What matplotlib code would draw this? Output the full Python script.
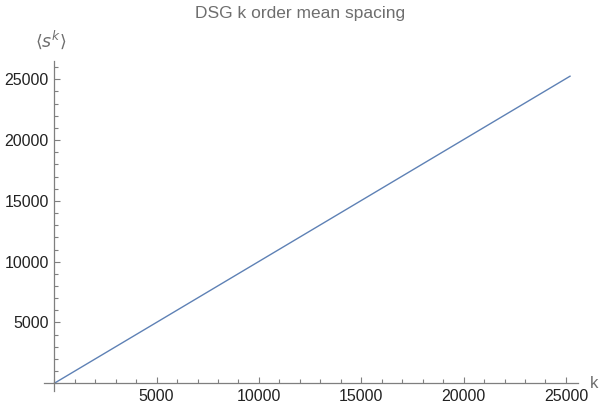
import numpy as np
import matplotlib
matplotlib.use("Agg")
import matplotlib.pyplot as plt
from matplotlib.ticker import FixedLocator, MultipleLocator

# data: mean k-th order spacing grows linearly with k
k_values = [0, 25200]
mean_spacing = [0, 25250]

x_major = [5000, 10000, 15000, 20000, 25000]
y_major = [5000, 10000, 15000, 20000, 25000]

axis_grey = "#7f7f7f"
label_grey = "#6e6e6e"
line_blue = "#5e81b5"

plt.rcParams["font.family"] = ["Liberation Sans", "DejaVu Sans"]

fig = plt.figure(figsize=(6.0, 4.08), dpi=100)
ax = fig.add_axes([0.0733, 0.0417, 0.8897, 0.8088])

ax.plot(k_values, mean_spacing, color=line_blue, linewidth=1.0)

ax.set_xlim(-503, 25580)
ax.set_ylim(-633, 26500)

for side in ("top", "right"):
    ax.spines[side].set_visible(False)
ax.spines["left"].set_position(("data", 0))
ax.spines["bottom"].set_position(("data", 0))
for side in ("left", "bottom"):
    ax.spines[side].set_color(axis_grey)
    ax.spines[side].set_linewidth(0.9)

ax.xaxis.set_major_locator(FixedLocator(x_major))
ax.yaxis.set_major_locator(FixedLocator(y_major))
ax.xaxis.set_minor_locator(MultipleLocator(1000))
ax.yaxis.set_minor_locator(MultipleLocator(1000))
ax.tick_params(which="both", direction="in", color=axis_grey, width=0.8,
               labelsize=11.5, labelcolor="#222222")
ax.tick_params(which="major", length=4.3, pad=4)
ax.tick_params(which="minor", length=2.9)
ax.tick_params(axis="x", which="both", top=False)
ax.tick_params(axis="y", which="both", right=False)

ax.text(-150, 1.03, r"$\langle s^k \rangle$", transform=ax.get_xaxis_transform(),
        ha="center", va="bottom", fontsize=12.5, color=label_grey)
ax.text(1.022, 0, "k", transform=ax.get_yaxis_transform(),
        ha="left", va="center", fontsize=12, color=label_grey)

fig.text(0.5, 0.955, "DSG k order mean spacing", ha="center", va="baseline",
         fontsize=12.5, color=label_grey)

fig.savefig("out.png", dpi=100)
